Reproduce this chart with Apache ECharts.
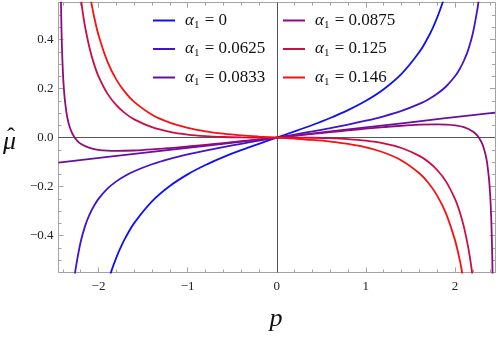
<!DOCTYPE html>
<html>
<head>
<meta charset="utf-8">
<script src="https://cdn.jsdelivr.net/npm/echarts@6/dist/echarts.min.js"></script>
<style>html,body{margin:0;padding:0;background:#fff}#c{width:498px;height:337px}</style>
</head>
<body>
<div id="c"></div>
<script>
// ---- data ----
const alphaLabels = ['0', '0.0625', '0.0833', '0.0875', '0.125', '0.146'];
const colors = ['#1010f8', '#4212cf', '#6410a6', '#920c78', '#cc0c44', '#fa1010'];

const p_a0 = [-1.9,-1.85,-1.8,-1.75,-1.7,-1.6,-1.4,-1.2,-1.0,-0.8,-0.6,-0.4,-0.2,0,0.2,0.4,0.6,0.8,1.0,1.2,1.4,1.6,1.7,1.75,1.8,1.85,1.9];
const mu_a0 = [-0.5962,-0.5383,-0.4891,-0.4468,-0.4100,-0.3488,-0.2599,-0.1974,-0.1500,-0.1119,-0.0798,-0.0514,-0.0252,0,0.0252,0.0514,0.0798,0.1119,0.1500,0.1974,0.2599,0.3488,0.4100,0.4468,0.4891,0.5383,0.5962];

const p_a1 = [-2.3,-2.27,-2.25,-2.2,-2.15,-2.1,-2.05,-2.0,-1.9,-1.8,-1.7,-1.6,-1.4,-1.2,-1.0,-0.8,-0.6,-0.4,-0.2,0,0.2,0.4,0.6,0.8,1.0,1.2,1.4,1.6,1.7,1.8,1.9,2.0,2.05,2.1,2.15,2.2,2.25,2.27,2.3];
const mu_a1 = [-0.6793,-0.5734,-0.5203,-0.4244,-0.3598,-0.3133,-0.2779,-0.2500,-0.2084,-0.1785,-0.1556,-0.1372,-0.1087,-0.0868,-0.0688,-0.0530,-0.0387,-0.0253,-0.0125,0,0.0125,0.0253,0.0387,0.0530,0.0688,0.0868,0.1087,0.1372,0.1556,0.1785,0.2084,0.2500,0.2779,0.3133,0.3598,0.4244,0.5203,0.5734,0.6793];

const p_a2 = [-2.449,-1.5,0,1.5,2.449];
const mu_a2 = [-0.1020,-0.0625,0,0.0625,0.1020];

const p_a3 = [-2.425,-2.42,-2.415,-2.41,-2.4,-2.39,-2.38,-2.36,-2.35,-2.33,-2.3,-2.27,-2.25,-2.2,-2.1,-2.0,-1.9,-1.8,-1.6,-1.4,-1.2,-1.0,-0.8,-0.6,-0.4,-0.2,0,0.2,0.4,0.6,0.8,1.0,1.2,1.4,1.6,1.8,1.9,2.0,2.1,2.2,2.25,2.27,2.3,2.33,2.35,2.36,2.38,2.39,2.4,2.41,2.415,2.42,2.425];
const mu_a3 = [0.6557,0.5261,0.4341,0.3655,0.2700,0.2067,0.1618,0.1024,0.0817,0.0511,0.0209,0.0012,-0.0084,-0.0251,-0.0423,-0.0500,-0.0533,-0.0543,-0.0526,-0.0483,-0.0426,-0.0363,-0.0294,-0.0223,-0.0149,-0.0075,0,0.0075,0.0149,0.0223,0.0294,0.0363,0.0426,0.0483,0.0526,0.0543,0.0533,0.0500,0.0423,0.0251,0.0084,-0.0012,-0.0209,-0.0511,-0.0817,-0.1024,-0.1618,-0.2067,-0.2700,-0.3655,-0.4341,-0.5261,-0.6557];

const p_a4 = [-2.2,-2.18,-2.15,-2.1,-2.05,-2.0,-1.9,-1.8,-1.7,-1.6,-1.4,-1.2,-1.0,-0.8,-0.6,-0.4,-0.2,0,0.2,0.4,0.6,0.8,1.0,1.2,1.4,1.6,1.7,1.8,1.9,2.0,2.05,2.1,2.15,2.18,2.2];
const mu_a4 = [0.5737,0.5190,0.4509,0.3640,0.2996,0.2500,0.1794,0.1321,0.0987,0.0744,0.0425,0.0237,0.0125,0.0060,0.0024,0.0007,0.0001,0,-0.0001,-0.0007,-0.0024,-0.0060,-0.0125,-0.0237,-0.0425,-0.0744,-0.0987,-0.1321,-0.1794,-0.2500,-0.2996,-0.3640,-0.4509,-0.5190,-0.5737];

const p_a5 = [-2.1,-2.07,-2.05,-2.0,-1.9,-1.8,-1.7,-1.6,-1.4,-1.2,-1.0,-0.8,-0.6,-0.4,-0.2,0,0.2,0.4,0.6,0.8,1.0,1.2,1.4,1.6,1.7,1.8,1.9,2.0,2.05,2.07,2.1];
const mu_a5 = [0.5916,0.5296,0.4936,0.4180,0.3097,0.2364,0.1842,0.1455,0.0932,0.0608,0.0398,0.0258,0.0162,0.0094,0.0043,0,-0.0043,-0.0094,-0.0162,-0.0258,-0.0398,-0.0608,-0.0932,-0.1455,-0.1842,-0.2364,-0.3097,-0.4180,-0.4936,-0.5296,-0.5916];

const xMajor = [-2,-1,0,1,2];
const xMinor = [-2.4,-2.2,-1.8,-1.6,-1.4,-1.2,-0.8,-0.6,-0.4,-0.2,0.2,0.4,0.6,0.8,1.2,1.4,1.6,1.8,2.2,2.4];
const yMajor = [-0.4,-0.2,0,0.2,0.4];
const yMinor = [-0.5,-0.45,-0.35,-0.3,-0.25,-0.15,-0.1,-0.05,0.05,0.1,0.15,0.25,0.3,0.35,0.45,0.5];
const xMin = -2.449, xMax = 2.449, yMin = -0.55, yMax = 0.55;

// ---- chart ----
const P = [p_a0,p_a1,p_a2,p_a3,p_a4,p_a5];
const M = [mu_a0,mu_a1,mu_a2,mu_a3,mu_a4,mu_a5];
const zip = (a,b) => a.map((v,i) => [v,b[i]]);
const SERIF = 'Liberation Serif';
const frameColor = '#a3a3a3';
const minusFmt = (v, dec) => { const s = Math.abs(v).toFixed(dec); return (v < -1e-9 ? '\u2212' : '') + s; };

function xAx(pos, major, labels) {
  return {
    type:'value', min:xMin, max:xMax, position:pos,
    splitLine:{show:false},
    axisLine:{show:major, onZero:false, lineStyle:{color:frameColor, width:1}},
    axisTick:{show:true, inside:true, length: major?5:3, customValues: major?xMajor:xMinor, lineStyle:{color:frameColor, width:1}},
    axisLabel:{show:labels, customValues:xMajor, margin:8, fontFamily:SERIF, fontSize:13, color:'#222',
      formatter:(v)=>minusFmt(v,0)}
  };
}
function yAx(pos, major, labels) {
  return {
    type:'value', min:yMin, max:yMax, position:pos,
    splitLine:{show:false},
    axisLine:{show:major, onZero:false, lineStyle:{color:frameColor, width:1}},
    axisTick:{show:true, inside:true, length: major?5:3, customValues: major?yMajor:yMinor, lineStyle:{color:frameColor, width:1}},
    axisLabel:{show:labels, customValues:yMajor, margin:5, fontFamily:SERIF, fontSize:13, color:'#222',
      formatter:(v)=>minusFmt(v,1)}
  };
}

const series = [{
  type:'line', name:'_axes', data:[[0,0]], symbol:'none', lineStyle:{opacity:0}, silent:true, z:1,
  markLine:{silent:true, symbol:'none', animation:false, label:{show:false},
    lineStyle:{color:'#555', width:1, type:'solid'}, emphasis:{disabled:true},
    data:[{xAxis:0},{yAxis:0}]}
}];
alphaLabels.forEach((a,i)=>{
  series.push({
    type:'line', name:a, data:zip(P[i],M[i]), showSymbol:false, symbol:'none',
    smooth:0.35, clip:true, z:3+i,
    lineStyle:{color:colors[i], width:1.8}, itemStyle:{color:colors[i]},
    emphasis:{disabled:true}
  });
});

const rich = {
  i:{fontFamily:SERIF, fontStyle:'italic', fontSize:17, color:'#111', lineHeight:20, padding:[0,0,0,5]},
  s:{fontFamily:SERIF, fontSize:11, color:'#111', lineHeight:12, verticalAlign:'bottom', padding:[0,1,0,0]},
  t:{fontFamily:SERIF, fontSize:17, color:'#111', lineHeight:20}
};
const legendBase = (left, data) => ({
  orient:'vertical', left:left, top:12, padding:0, itemGap:10,
  itemWidth:22, itemHeight:2, icon:'rect', selectedMode:false, data:data,
  formatter:(n)=>'{i|\u03B1}{s|1}{t| = '+n+'}',
  textStyle:{rich:rich}
});

const chart = echarts.init(document.getElementById('c'), null, {renderer:'canvas'});
chart.setOption({
  animation:false,
  backgroundColor:'#fff',
  grid:{left:58.5, right:3, top:2.7, bottom:64.5, containLabel:false},
  xAxis:[xAx('bottom',true,true), xAx('bottom',false,false), xAx('top',true,false), xAx('top',false,false)],
  yAxis:[yAx('left',true,true), yAx('left',false,false), yAx('right',true,false), yAx('right',false,false)],
  legend:[legendBase(153, alphaLabels.slice(0,3)), legendBase(283, alphaLabels.slice(3))],
  graphic:[
    {type:'text', x:276, y:306, style:{text:'p', align:'center', fontFamily:SERIF, fontStyle:'italic', fontSize:26, fill:'#111'}},
    {type:'text', x:3, y:129, style:{text:'\u03BC', fontFamily:SERIF, fontStyle:'italic', fontSize:26, fill:'#111'}},
    {type:'text', x:7, y:126, style:{text:'\u02C6', fontFamily:SERIF, fontSize:24, fill:'#111'}}
  ],
  series:series
});
</script>
</body>
</html>
